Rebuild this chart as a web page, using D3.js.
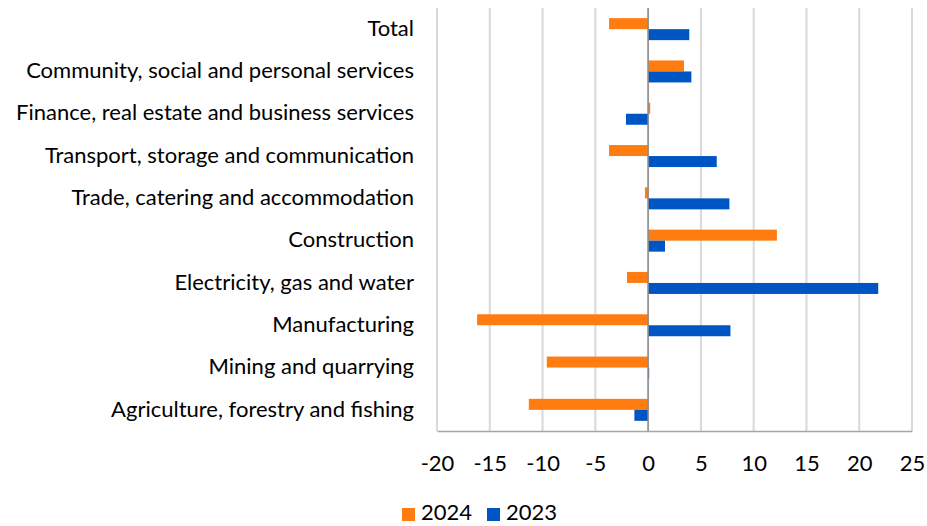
<!DOCTYPE html>
<html>
<head>
<meta charset="utf-8">
<script src="https://cdn.jsdelivr.net/npm/d3@7"></script>
<style>
  html, body { margin: 0; padding: 0; background: #fff; }
  svg text { font-family: Lato, "Open Sans", sans-serif; fill: #000; }
</style>
</head>
<body>
<svg id="chart" width="927" height="526"></svg>
<script>
// Sectors, top to bottom
const categories = [
  "Total",
  "Community, social and personal services",
  "Finance, real estate and business services",
  "Transport, storage and communication",
  "Trade, catering and accommodation",
  "Construction",
  "Electricity, gas and water",
  "Manufacturing",
  "Mining and quarrying",
  "Agriculture, forestry and fishing"
];
const values2024 = [-3.7, 3.4, 0.2, -3.7, -0.3, 12.2, -2.0, -16.2, -9.6, -11.3];
const values2023 = [3.9, 4.1, -2.1, 6.5, 7.7, 1.6, 21.8, 7.8, 0.1, -1.3];
const seriesNames = ["2024", "2023"];
const seriesColors = ["#FF7C10", "#0055C4"];
const xTicks = [-20, -15, -10, -5, 0, 5, 10, 15, 20, 25];

const svg = d3.select("#chart");
const m = { left: 437, right: 912, top: 8, bottom: 431 };
const fontSize = 22;

const x = d3.scaleLinear().domain([-20, 25]).range([m.left, m.right]);
const y = d3.scaleBand().domain(categories).range([m.top, m.bottom]).paddingInner(0.48).paddingOuter(0.24);
const ySeries = d3.scaleBand().domain(seriesNames).range([0, y.bandwidth()]);

// vertical gridlines
svg.append("g").selectAll("line").data(xTicks).join("line")
  .attr("x1", d => x(d)).attr("x2", d => x(d))
  .attr("y1", m.top).attr("y2", m.bottom)
  .attr("stroke", "#d9d9d9").attr("stroke-width", 2);

// bars
const series = [values2024, values2023];
series.forEach((vals, si) => {
  svg.append("g").selectAll("rect").data(categories).join("rect")
    .attr("x", (c, i) => x(Math.min(0, vals[i])))
    .attr("width", (c, i) => Math.abs(x(vals[i]) - x(0)))
    .attr("y", c => y(c) + ySeries(seriesNames[si]))
    .attr("height", ySeries.bandwidth())
    .attr("fill", seriesColors[si]);
});

// zero line and bottom axis line
svg.append("line")
  .attr("x1", x(0)).attr("x2", x(0)).attr("y1", m.top).attr("y2", m.bottom)
  .attr("stroke", "#8c8c8c").attr("stroke-width", 1.5);

const xAxis = d3.axisBottom(x).tickValues(xTicks).tickSize(0).tickPadding(24)
  .tickFormat(d => String(d));
const gx = svg.append("g").attr("transform", `translate(0,${m.bottom})`).call(xAxis);
gx.select(".domain").attr("stroke", "#a6a6a6").attr("stroke-width", 1.5);
gx.selectAll("text").attr("font-size", fontSize).style("font-family", "Lato, 'Open Sans', sans-serif").attr("fill", "#000");

// category labels
svg.append("g").selectAll("text").data(categories).join("text")
  .attr("x", 414)
  .attr("y", c => y(c) + y.bandwidth() / 2 - 1)
  .attr("dy", "0.35em")
  .attr("text-anchor", "end")
  .attr("font-size", fontSize)
  .text(c => c);

// legend
const legend = svg.append("g");
const legendItems = [{ x: 402 }, { x: 487 }];
seriesNames.forEach((name, i) => {
  const lx = legendItems[i].x;
  legend.append("rect").attr("x", lx).attr("y", 508).attr("width", 13).attr("height", 13).attr("fill", seriesColors[i]);
  legend.append("text").attr("x", lx + 19).attr("y", 520).attr("font-size", fontSize).text(name);
});
</script>
</body>
</html>
